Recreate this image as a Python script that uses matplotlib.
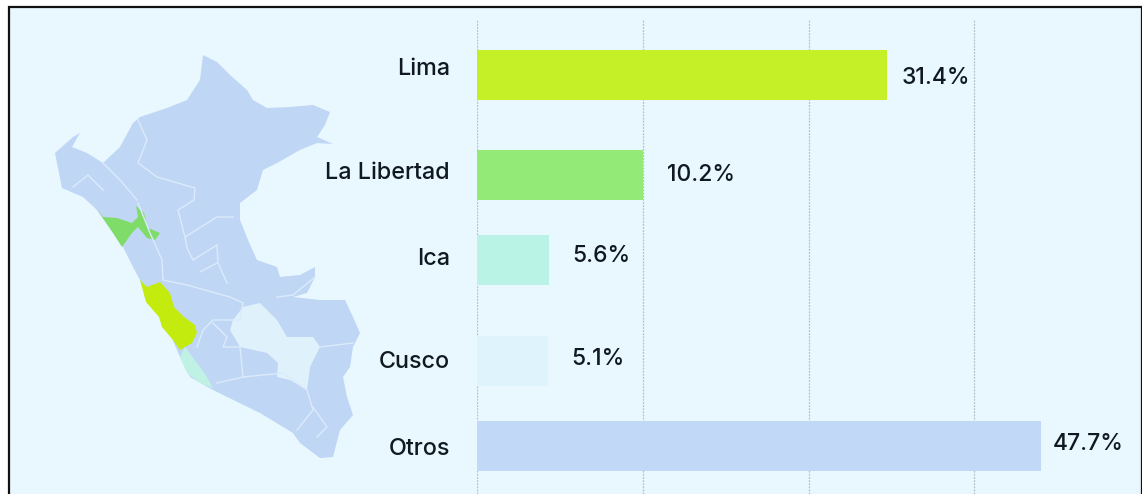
# participacion por region, barras + mapa del peru trazado a mano
import numpy as np
import matplotlib
matplotlib.use("Agg")
import matplotlib.pyplot as plt
from matplotlib.patches import Polygon

W, H = 1142, 494
regions = ["Lima", "La Libertad", "Ica", "Cusco", "Otros"]
labels = ["31.4%", "10.2%", "5.6%", "5.1%", "47.7%"]
# bar lengths as drawn, read against the gridlines (one grid step = 10), they are not
# proportional to the printed percentages in the original
lengths = [24.75, 10.0, 4.35, 4.3, 34.0]
colors = ["#c5ef27", "#93ea76", "#b9f3e6", "#dff3fd", "#c2d8f7"]

# map outlines in pixels
peru = [(203,55),(217,62),(230,75),(247,90),(253,100),(267,108),(290,107),(313,105),(330,112),
        (325,125),(317,137),(333,144),(317,143),(300,150),(277,163),(263,170),(257,190),(240,203),
        (240,220),(248,240),(257,260),(277,267),(280,277),(300,275),(315,267),(315,277),(307,293),
        (293,297),(320,300),(345,300),(353,317),(360,333),(353,347),(350,367),(343,377),(347,397),
        (353,415),(340,430),(333,457),(320,458),(300,443),(293,433),(260,413),(213,390),(190,377),
        (180,357),(167,327),(147,300),(140,280),(133,267),(123,247),(113,233),(97,210),(83,197),
        (62,188),(55,153),(73,137),(80,133),(72,147),(87,153),(103,163),(120,147),(133,123),(140,117),
        (167,108),(187,100),(200,80)]
lima = [(140,280),(147,287),(160,282),(170,293),(174,307),(184,317),(195,325),(197,333),(192,343),
        (180,350),(173,340),(162,327),(159,317),(146,302)]
libertad = [(96,208),(103,217),(117,218),(132,223),(138,217),(136,206),(144,213),(148,228),(160,233),
            (155,240),(147,238),(138,227),(132,233),(122,247),(113,233)]
ica = [(185,347),(197,363),(207,377),(213,388),(200,383),(187,373),(180,357)]
cusco = [(243,307),(260,303),(277,320),(287,337),(313,337),(320,347),(310,367),(307,390),(290,380),
         (277,377),(278,363),(267,353),(240,347),(230,330),(233,320)]
borders = [
    [(138,120),(147,140),(138,163),(157,177),(195,188),(194,200),(178,210),(185,237),(187,248),(193,260),(217,245),(218,263),(227,283)],
    [(185,237),(217,217),(233,217)],
    [(73,187),(88,175),(103,190)],
    [(103,163),(120,180),(137,200)],
    [(138,203),(150,233),(162,260),(163,280),(187,285),(230,297),(243,303)],
    [(200,272),(217,263)],
    [(243,303),(240,320),(213,320),(203,330),(197,347)],
    [(213,323),(227,337),(223,347),(240,347),(243,377),(217,383)],
    [(243,377),(283,373),(307,390),(313,410),(297,430)],
    [(313,407),(327,427),(317,437)],
    [(320,347),(353,343)],
    [(277,297),(293,295),(315,277)],
]

fig = plt.figure(figsize=(W/100, H/100), dpi=100, facecolor="white")
plt.rcParams["font.family"] = "Inter"

# background layer in pixel coordinates, frame and map
bg = fig.add_axes([0, 0, 1, 1])
bg.set_xlim(0, W); bg.set_ylim(H, 0); bg.axis("off")
bg.add_patch(plt.Rectangle((9, 7), W-9, H, fc="#e8f8fe", ec="#111111", lw=1.6))
bg.add_patch(Polygon(peru, fc="#c0d6f5", ec="none"))
bg.add_patch(Polygon(cusco, fc="#dff2fb", ec="none"))
for b in borders:
    bg.plot(*zip(*b), color="#dcebfb", lw=1)
bg.add_patch(Polygon(lima, fc="#c3ec0e", ec="none"))
bg.add_patch(Polygon(libertad, fc="#7fdc68", ec="none"))
bg.add_patch(Polygon(ica, fc="#bff2e4", ec="none"))

# bars, axes spans x 477..1140 px and y 20..494 px
ax = fig.add_axes([477/W, 0, 663/W, 474/H])
ax.patch.set_alpha(0)
ax.set_xlim(0, 40); ax.set_ylim(494, 20)
ypos = [74.5, 174.5, 260, 361, 446]
ax.barh(ypos, lengths, height=50, color=colors, zorder=2)
ax.set_xticks([0, 10, 20, 30, 40])
ax.grid(axis="x", color="#b4c0c8", lw=0.9, ls=(0, (1.5, 1)), zorder=1)
ax.set_axisbelow(True)
ax.tick_params(length=0, labelbottom=False, labelleft=False)
for s in ax.spines.values():
    s.set_visible(False)

# names end at about x=450, values sit by the bar ends with uneven gaps
name_dy = [-6, -2, -1, 1, 3]
value_dx = [14, 24, 23, 23, 12]
value_dy = [3, 0, -4, -2, -2]
for i, y in enumerate(ypos):
    ax.annotate(regions[i], (0, y), xytext=(-27, -name_dy[i]), textcoords="offset pixels",
                ha="right", va="center", fontsize=16.8, fontweight="medium", color="#101820", annotation_clip=False)
    ax.annotate(labels[i], (lengths[i], y), xytext=(value_dx[i], -value_dy[i]), textcoords="offset pixels",
                ha="left", va="center", fontsize=16.5, fontweight="medium", color="#101820", annotation_clip=False)

fig.savefig("out.png", dpi=100)
